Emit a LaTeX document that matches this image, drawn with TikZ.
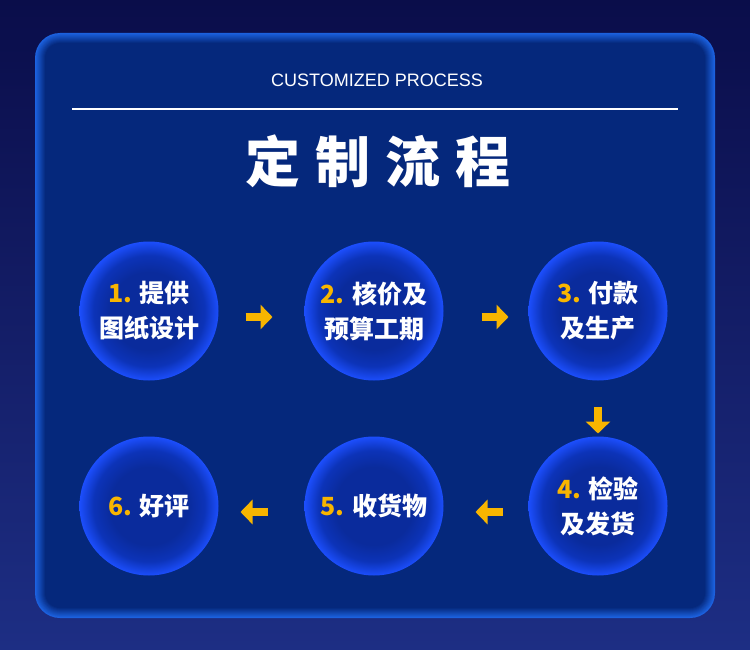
\documentclass[tikz,border=0pt]{standalone}
\usepackage{fontspec}
\setmainfont{Liberation Sans}
\newfontfamily\cjk{Noto Sans CJK SC}
\usetikzlibrary{arrows.meta}
\definecolor{bgtop}{HTML}{0A0D4A}
\definecolor{bgbot}{HTML}{1D2E84}
\definecolor{panelrim}{HTML}{1C62E0}
\definecolor{panelin}{HTML}{05287C}
\definecolor{bubin}{HTML}{0A2B9C}
\definecolor{bubmid}{HTML}{0C33B8}
\definecolor{bubout}{HTML}{1C4EFC}
\definecolor{gold}{HTML}{F8B500}
\pgfdeclareradialshading{bubble}{\pgfpoint{0bp}{0bp}}{color(0bp)=(bubin); color(14bp)=(bubin); color(20bp)=(bubmid); color(25bp)=(bubout); color(50bp)=(bubout)}
\tikzset{
	stepnode/.style={
			circle, minimum size=139pt, inner sep=0pt, outer sep=0pt,
			shading=bubble, align=center, text=white,
			font=\cjk\bfseries\fontsize{25}{35}\selectfont
		},
	flow/.style={gold, line width=8pt, -{Triangle[width=24pt,length=12pt]}}
}
\newcommand{\stepno}[1]{\textcolor{gold}{#1}}

\begin{document}
\begin{tikzpicture}[x=1pt, y=-1pt]

			\useasboundingbox (0,0) rectangle (750,650);

			% Draw the background
			\shade[top color=bgtop, bottom color=bgbot] (0,0) rectangle (750,650);

			% Draw the panel with its glowing rim
			\foreach \i in {0,...,10} {
					\pgfmathsetmacro\mix{\i*10}
					\pgfmathsetmacro\rad{25-\i}
					\fill[panelin!\mix!panelrim, rounded corners=\rad pt] (35+\i,33+\i) rectangle (715-\i,618-\i);
				}

			% Draw the headings
			\node[white, font=\fontsize{18}{18}\selectfont] (sub) at (377,80) {CUSTOMIZED PROCESS};
			\draw[white, line width=2pt] (72,109) -- (678,109);
			\node[white, font=\cjk\bfseries\fontsize{55}{55}\selectfont] (title) at (378,161) {定\hspace{15pt}制\hspace{15pt}流\hspace{15pt}程};

			% Draw the steps
			\node[stepnode] (s1) at (149,311) {\stepno{1.} 提供\\图纸设计};
			\node[stepnode] (s2) at (374,311) {\stepno{2.} 核价及\\预算工期};
			\node[stepnode] (s3) at (598,311) {\stepno{3.} 付款\\及生产};
			\node[stepnode] (s4) at (598,506) {\stepno{4.} 检验\\及发货};
			\node[stepnode] (s5) at (374,506) {\stepno{5.} 收货物};
			\node[stepnode] (s6) at (149,506) {\stepno{6.} 好评};

			% Draw the arrows between the steps
			\draw[flow, shorten <=27pt, shorten >=32pt] ([yshift=-6pt]s1.east) -- ([yshift=-6pt]s2.west);
			\draw[flow, shorten <=38pt, shorten >=20pt] ([yshift=-6pt]s2.east) -- ([yshift=-6pt]s3.west);
			\draw[flow, shorten <=26pt, shorten >=3pt] (s3.south) -- (s4.north);
			\draw[flow, shorten <=26pt, shorten >=32pt] ([yshift=-6pt]s4.west) -- ([yshift=-6pt]s5.east);
			\draw[flow, shorten <=37pt, shorten >=22pt] ([yshift=-6pt]s5.west) -- ([yshift=-6pt]s6.east);
		\end{tikzpicture}
\end{document}
